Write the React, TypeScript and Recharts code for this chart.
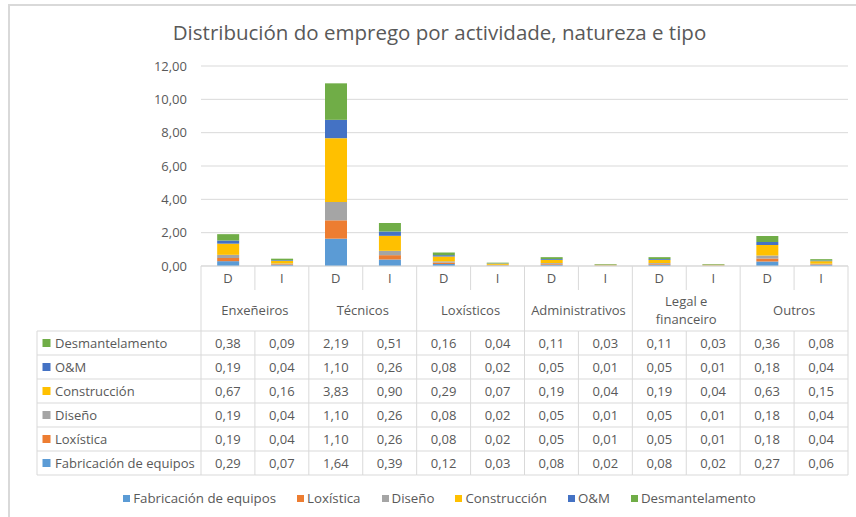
import { BarChart, Bar, XAxis, YAxis, CartesianGrid } from "recharts";

const groups = ["Enxeñeiros", "Técnicos", "Loxísticos", "Administrativos", "Legal e\nfinanceiro", "Outros"];
const types = ["D", "I"];

const seriesKeys = ["fab", "lox", "dis", "con", "om", "des"];
const seriesNames = ["Fabricación de equipos", "Loxística", "Diseño", "Construcción", "O&M", "Desmantelamento"];
const seriesColors = ["#5B9BD5", "#ED7D31", "#A5A5A5", "#FFC000", "#4472C4", "#70AD47"];

const fabricacion = [0.29, 0.07, 1.64, 0.39, 0.12, 0.03, 0.08, 0.02, 0.08, 0.02, 0.27, 0.06];
const loxistica = [0.19, 0.04, 1.1, 0.26, 0.08, 0.02, 0.05, 0.01, 0.05, 0.01, 0.18, 0.04];
const diseno = [0.19, 0.04, 1.1, 0.26, 0.08, 0.02, 0.05, 0.01, 0.05, 0.01, 0.18, 0.04];
const construccion = [0.67, 0.16, 3.83, 0.9, 0.29, 0.07, 0.19, 0.04, 0.19, 0.04, 0.63, 0.15];
const om = [0.19, 0.04, 1.1, 0.26, 0.08, 0.02, 0.05, 0.01, 0.05, 0.01, 0.18, 0.04];
const desmantelamento = [0.38, 0.09, 2.19, 0.51, 0.16, 0.04, 0.11, 0.03, 0.11, 0.03, 0.36, 0.08];

const yTicks = [0, 2, 4, 6, 8, 10, 12];

const seriesValues = [fabricacion, loxistica, diseno, construccion, om, desmantelamento];

const data = groups.flatMap((g, gi) =>
  types.map((t, ti) => {
    const i = gi * types.length + ti;
    const row: any = { key: `${g}|${t}`, group: g, type: t };
    seriesKeys.forEach((k, si) => (row[k] = seriesValues[si][i]));
    return row;
  })
);

const FONT = "'Open Sans', 'Noto Sans', sans-serif";
const TEXT = "#595959";
const LINE = "#d9d9d9";
const fmt = (v: number) => v.toFixed(2).replace(".", ",");

// table geometry (relative to the axis line)
const HEAD_H = 24;
const TABLE_TOP = 65;
const ROW_H = 24;
const LABEL_W = 164;
const tableOrder = [5, 4, 3, 2, 1, 0];

function ColumnTick(props: any) {
  const { x, y, payload, index } = props;
  const half = payload?.offset || 647 / 24;
  const row = data[index];
  const left = x - half;
  const right = x + half;
  const isD = row.type === "D";
  const bottom = y + TABLE_TOP + ROW_H * tableOrder.length;
  const rowYs = Array.from({ length: tableOrder.length + 1 }, (_, r) => y + TABLE_TOP + r * ROW_H);

  return (
    <g fontFamily={FONT} fontSize={13} fill={TEXT}>
      {isD ? (
        <line x1={left} x2={left} y1={y} y2={bottom} stroke={LINE} />
      ) : (
        <>
          <line x1={left} x2={left} y1={y} y2={y + HEAD_H} stroke={LINE} />
          <line x1={left} x2={left} y1={y + TABLE_TOP} y2={bottom} stroke={LINE} />
        </>
      )}
      {index === data.length - 1 && <line x1={right} x2={right} y1={y} y2={bottom} stroke={LINE} />}
      {rowYs.map((ry, r) => (
        <line key={r} x1={left} x2={right} y1={ry} y2={ry} stroke={LINE} />
      ))}
      <text x={x} y={y + 17} textAnchor="middle">{row.type}</text>
      {isD &&
        row.group.split("\n").map((ln: string, li: number, arr: string[]) => (
          <text key={li} x={right} y={y + 49 + (li - (arr.length - 1) / 2) * 18} textAnchor="middle">
            {ln}
          </text>
        ))}
      {tableOrder.map((si, r) => (
        <text key={si} x={x} y={y + TABLE_TOP + r * ROW_H + 16.5} textAnchor="middle">
          {fmt(row[seriesKeys[si]])}
        </text>
      ))}
      {index === 0 && (
        <g>
          <line x1={left - LABEL_W} x2={left - LABEL_W} y1={y + TABLE_TOP} y2={bottom} stroke={LINE} />
          {rowYs.map((ry, r) => (
            <line key={r} x1={left - LABEL_W} x2={left} y1={ry} y2={ry} stroke={LINE} />
          ))}
          {tableOrder.map((si, r) => (
            <g key={si}>
              <rect x={left - LABEL_W + 5.5} y={y + TABLE_TOP + r * ROW_H + 8} width={8} height={8} fill={seriesColors[si]} />
              <text x={left - LABEL_W + 18} y={y + TABLE_TOP + r * ROW_H + 16.5}>
                {seriesNames[si]}
              </text>
            </g>
          ))}
        </g>
      )}
    </g>
  );
}

export default function App() {
  return (
    <div style={{ position: "absolute", left: 0, top: 0, width: 856, height: 517, background: "#fff", overflow: "hidden" }}>
      <div
        style={{ position: "absolute", left: 8, top: 4, width: 900, height: 600, borderTop: `2px solid ${LINE}`, borderLeft: `2px solid ${LINE}` }}
      />
      <div
        style={{ position: "absolute", left: 8, top: 18, width: 863, textAlign: "center", fontFamily: FONT, fontSize: 20.5, color: TEXT }}
      >
        Distribución do emprego por actividade, natureza e tipo
      </div>
      <div style={{ position: "absolute", left: 0, top: 0 }}>
        <BarChart width={856} height={517} data={data} margin={{ top: 66, right: 8, bottom: 42, left: 141 }} barCategoryGap="30%">
          <CartesianGrid vertical={false} stroke={LINE} />
          <XAxis
            dataKey="key"
            height={209}
            interval={0}
            tickSize={0}
            tickMargin={0}
            tickLine={false}
            axisLine={{ stroke: LINE }}
            tick={(p: any) => <ColumnTick {...p} />}
          />
          <YAxis
            domain={[0, 12]}
            ticks={yTicks}
            width={60}
            tickMargin={8}
            axisLine={false}
            tickLine={false}
            tickFormatter={fmt}
            tick={{ fill: TEXT, fontSize: 13, fontFamily: FONT }}
          />
          {seriesKeys.map((k, si) => (
            <Bar key={k} dataKey={k} stackId="a" name={seriesNames[si]} fill={seriesColors[si]} isAnimationActive={false} />
          ))}
        </BarChart>
      </div>
      <div
        style={{
          position: "absolute",
          left: 8,
          top: 489,
          width: 863,
          display: "flex",
          justifyContent: "center",
          gap: 21,
          fontFamily: FONT,
          fontSize: 13.3,
          color: TEXT,
        }}
      >
        {seriesNames.map((n, si) => (
          <div key={n} style={{ display: "flex", alignItems: "center", gap: 3 }}>
            <span style={{ width: 7, height: 7, background: seriesColors[si], display: "inline-block" }} />
            <span>{n}</span>
          </div>
        ))}
      </div>
    </div>
  );
}
